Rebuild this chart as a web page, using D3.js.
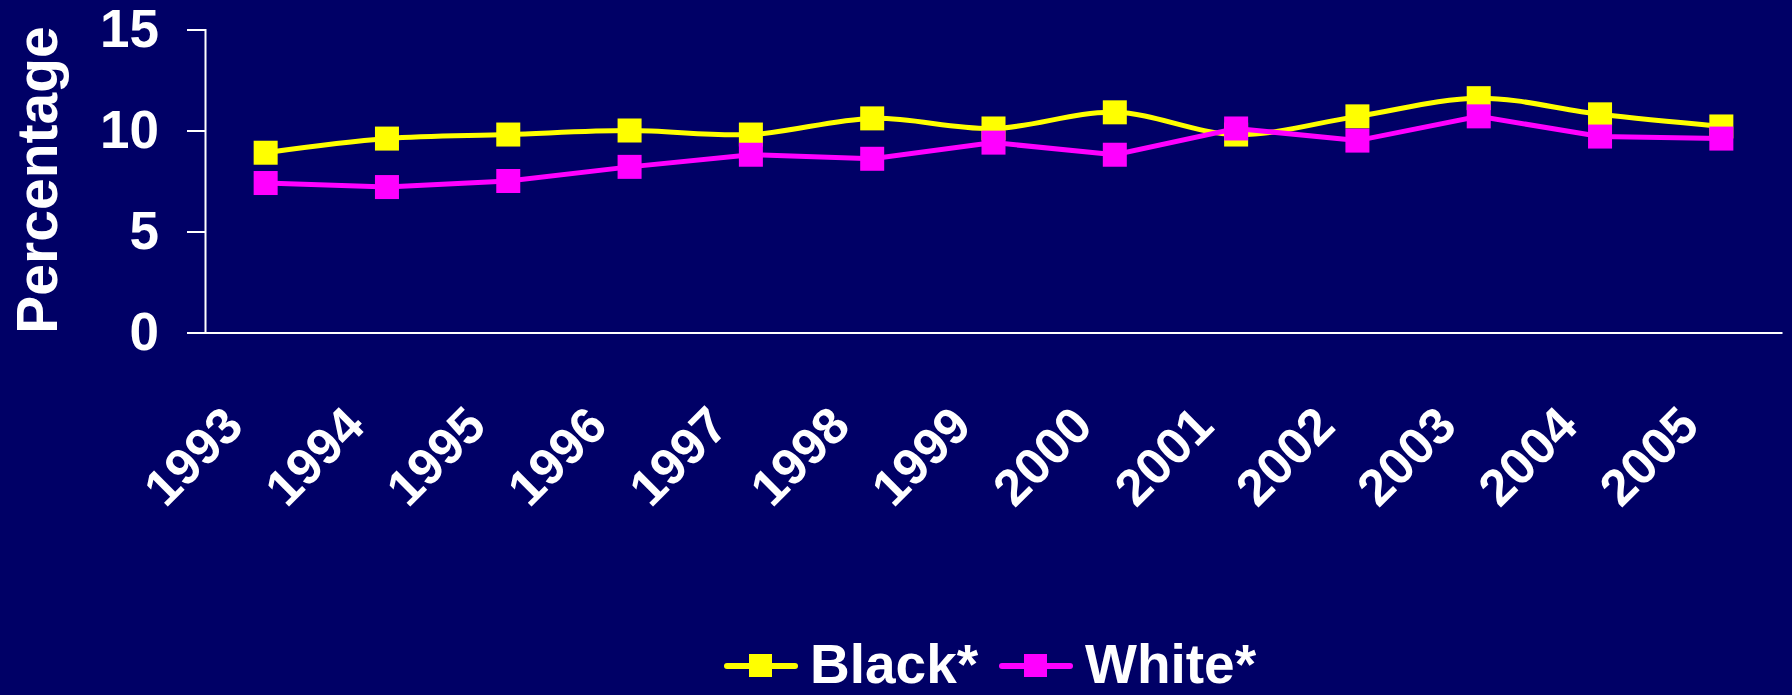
<!DOCTYPE html>
<html>
<head>
<meta charset="utf-8">
<script src="https://cdn.jsdelivr.net/npm/d3@7"></script>
<style>
  html, body { margin: 0; padding: 0; background: #000066; }
  svg { display: block; font-family: "Liberation Sans", Arial, sans-serif; font-weight: bold; }
</style>
</head>
<body>
<svg id="chart" width="1792" height="695"></svg>
<script>
const years = ["1993","1994","1995","1996","1997","1998","1999","2000","2001","2002","2003","2004","2005"];
const blackValues = [8.9, 9.6, 9.8, 10.0, 9.8, 10.6, 10.1, 10.9, 9.8, 10.7, 11.6, 10.8, 10.2];
const whiteValues = [7.4, 7.2, 7.5, 8.2, 8.8, 8.6, 9.4, 8.8, 10.1, 9.5, 10.7, 9.7, 9.6];
const yTicks = [0, 5, 10, 15];

const series = [
  { name: "Black*", values: blackValues, color: "#ffff00", smooth: true },
  { name: "White*", values: whiteValues, color: "#ff00ff", smooth: false }
];

const svg = d3.select("#chart");
const W = 1792, H = 695;
svg.append("rect").attr("width", W).attr("height", H).attr("fill", "#000066");

const plotLeft = 205, plotRight = 1782, plotTop = 29.5, plotBottom = 332.5;

const x = d3.scaleBand().domain(years).range([plotLeft, plotRight]);
const y = d3.scaleLinear().domain([0, 15]).range([plotBottom, plotTop]);
const cx = d => x(d) + x.bandwidth() / 2;

// y axis
const yAxis = svg.append("g")
    .attr("transform", `translate(${plotLeft},0)`)
    .call(d3.axisLeft(y).tickValues(yTicks).tickSize(18).tickPadding(28));
yAxis.select(".domain").attr("stroke", "#fff").attr("stroke-width", 2);
yAxis.selectAll(".tick line").attr("stroke", "#fff").attr("stroke-width", 2);
yAxis.selectAll(".tick text")
    .attr("fill", "#fff")
    .style("font-size", "53px")
    .style("font-weight", "bold")
    .style("font-family", "'Liberation Sans', Arial, sans-serif");

// x axis
const xAxis = svg.append("g")
    .attr("transform", `translate(0,${plotBottom})`)
    .call(d3.axisBottom(x).tickSize(0).tickPadding(0));
xAxis.select(".domain").attr("stroke", "#fff").attr("stroke-width", 2);
xAxis.selectAll(".tick text")
    .attr("fill", "#fff")
    .style("font-size", "51px")
    .style("font-weight", "bold")
    .style("font-family", "'Liberation Sans', Arial, sans-serif")
    .attr("text-anchor", "end")
    .attr("dy", 0)
    .attr("y", 0)
    .attr("transform", `translate(-20,96) rotate(-45)`);

// y axis title
svg.append("text")
    .attr("transform", "translate(57,180) rotate(-90)")
    .attr("text-anchor", "middle")
    .attr("fill", "#fff")
    .style("font-size", "57px")
    .text("Percentage");

// lines
const msize = 24;
series.forEach(s => {
  const line = d3.line()
      .x((d, i) => cx(years[i]))
      .y(d => y(d))
      .curve(s.smooth ? d3.curveCardinal.tension(0) : d3.curveLinear);

  const g = svg.append("g");
  g.append("path")
      .datum(s.values)
      .attr("d", line)
      .attr("fill", "none")
      .attr("stroke", s.color)
      .attr("stroke-width", 5);

  g.selectAll("rect")
      .data(s.values)
      .join("rect")
      .attr("x", (d, i) => cx(years[i]) - msize / 2)
      .attr("y", d => y(d) - msize / 2)
      .attr("width", msize)
      .attr("height", msize)
      .attr("fill", s.color);
});

// legend
const legendItems = [
  { x: 727, textX: 810 },
  { x: 1002, textX: 1085 }
];
series.forEach((s, i) => {
  const lg = svg.append("g").attr("transform", `translate(${legendItems[i].x},666)`);
  lg.append("line")
      .attr("x1", 0).attr("x2", 68)
      .attr("stroke", s.color)
      .attr("stroke-width", 6)
      .attr("stroke-linecap", "round");
  lg.append("rect")
      .attr("x", 22).attr("y", -12)
      .attr("width", 23).attr("height", 23)
      .attr("fill", s.color);
  svg.append("text")
      .attr("x", legendItems[i].textX)
      .attr("y", 683)
      .attr("fill", "#fff")
      .style("font-size", "55px")
      .text(s.name);
});
</script>
</body>
</html>
